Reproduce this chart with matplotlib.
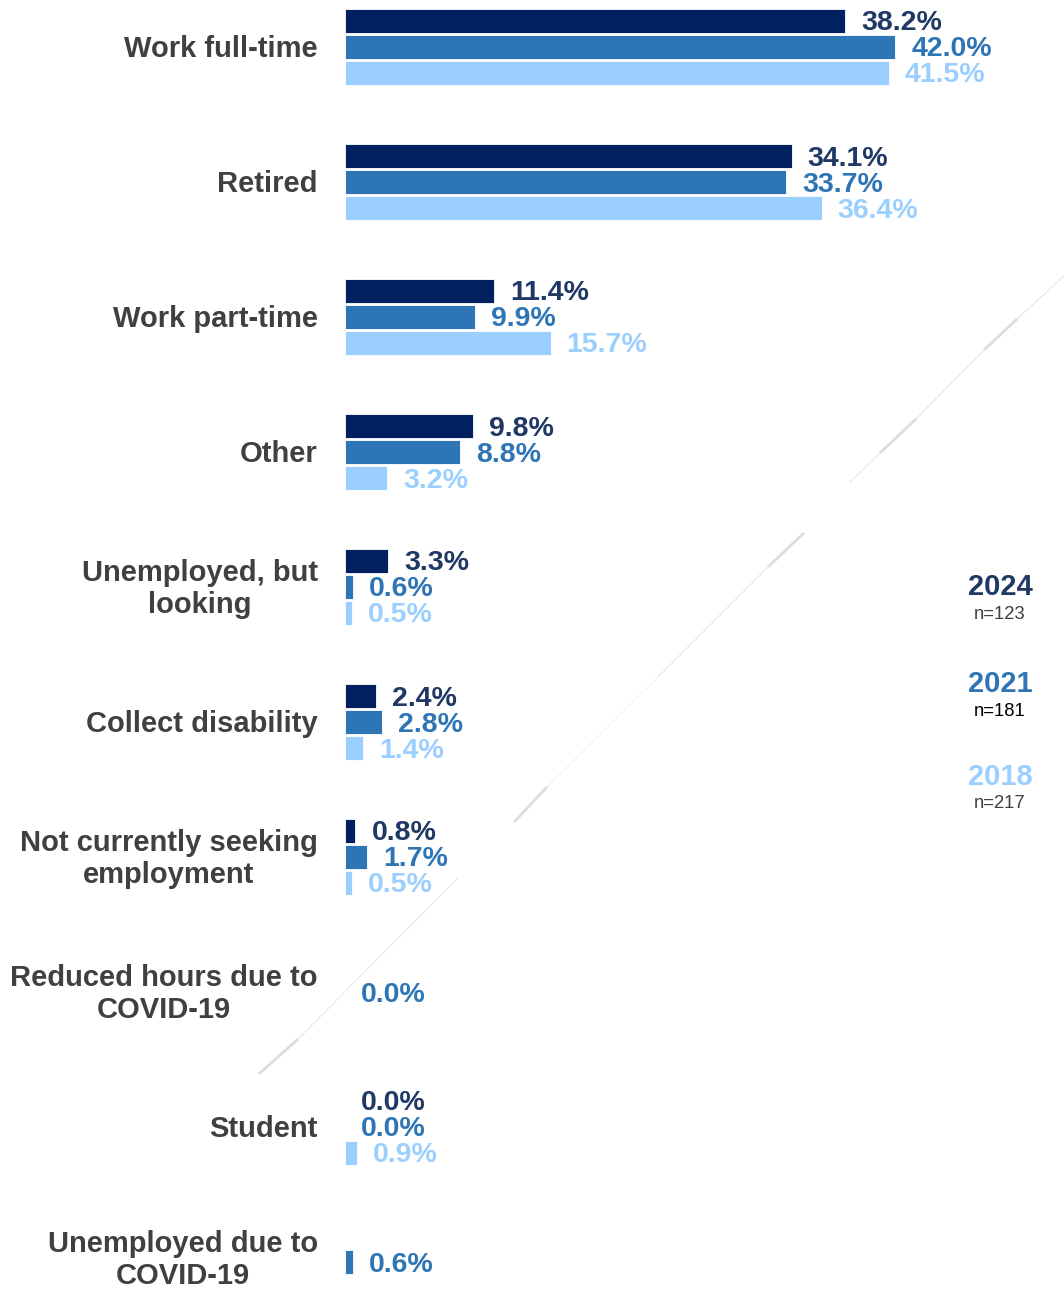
import numpy as np
import matplotlib
matplotlib.use("Agg")
import matplotlib.pyplot as plt
from matplotlib.lines import Line2D

plt.rcParams['font.family'] = ['Liberation Sans', 'DejaVu Sans']

categories = [
    "Work full-time",
    "Retired",
    "Work part-time",
    "Other",
    "Unemployed, but\nlooking",
    "Collect disability",
    "Not currently seeking\nemployment",
    "Reduced hours due to\nCOVID-19",
    "Student",
    "Unemployed due to\nCOVID-19",
]
years = ["2024", "2021", "2018"]
sample_sizes = ["n=123", "n=181", "n=217"]
v2024 = [38.2, 34.1, 11.4, 9.8, 3.3, 2.4, 0.8, None, 0.0, None]
v2021 = [42.0, 33.7, 9.9, 8.8, 0.6, 2.8, 1.7, 0.0, 0.0, 0.6]
v2018 = [41.5, 36.4, 15.7, 3.2, 0.5, 1.4, 0.5, None, 0.9, None]

bar_colors = ["#002060", "#2E75B6", "#9BCFFF"]
text_colors = ["#1F3864", "#2E75B6", "#9BCFFF"]
n_colors = ["#404040", "#000000", "#404040"]

W, H = 1064, 1289
fig = plt.figure(figsize=(W / 100, H / 100), dpi=100)

# Faint diagonal stroke running behind the chart
stroke = [
    [(1064, 276), (1016, 320), 0.8, "#E6E6E6"],
    [(1016, 320), (985, 349), 2.0, "#DDDDDD"],
    [(985, 349), (915, 420), 0.8, "#E6E6E6"],
    [(915, 420), (881, 452), 2.0, "#DDDDDD"],
    [(881, 452), (850, 482), 0.8, "#E6E6E6"],
    [(803, 534), (769, 566), 2.0, "#DDDDDD"],
    [(769, 566), (658, 677), 0.8, "#E6E6E6"],
    [(658, 677), (546, 788), 0.6, "#EEEEEE"],
    [(546, 788), (515, 821), 2.0, "#DDDDDD"],
    [(458, 878), (297, 1040), 0.8, "#E6E6E6"],
    [(297, 1040), (260, 1073), 2.0, "#DDDDDD"],
]
for (x0, y0), (x1, y1), lw, c in stroke:
    fig.add_artist(Line2D([x0 / W, x1 / W], [1 - y0 / H, 1 - y1 / H],
                          transform=fig.transFigure, lw=lw, color=c, zorder=0))

left_px = 345
px_per_pct = 13.1
ax = fig.add_axes([left_px / W, 0, (W - left_px) / W, 1])
ax.set_xlim(0, (W - left_px) / px_per_pct)
top_px, pitch = 47, 135
ax.set_ylim((H - top_px) / pitch, -top_px / pitch)
ax.axis("off")
ax.patch.set_alpha(0)

bar_h = 24 / pitch
offset = 26 / pitch
series = [v2024, v2021, v2018]
for s, vals in enumerate(series):
    for i, v in enumerate(vals):
        if v is None:
            continue
        y = i + (s - 1) * offset
        ax.barh(y, v, height=bar_h, color=bar_colors[s], edgecolor="white",
                linewidth=0.6, zorder=2)
        ax.annotate(f"{v:.1f}%", xy=(v, y), xytext=(11.5, -1.8),
                    textcoords="offset points", ha="left", va="center",
                    fontsize=20.5, fontweight="bold", color=text_colors[s],
                    zorder=3)

n_cat = len(categories)
for i, cat in enumerate(categories):
    dy = -1.5 if i < n_cat - 1 else 1.5  # keep the bottom label inside the canvas
    ax.annotate(cat, xy=(0, i), xytext=(-19.5, dy), textcoords="offset points",
                ha="right", va="center", multialignment="center",
                fontsize=21, fontweight="bold", color="#404040",
                linespacing=1.2, annotation_clip=False)

# Year / sample-size key on the right
key_y = [587, 684, 777]
for k in range(3):
    fig.text(1000 / W, 1 - key_y[k] / H, years[k], ha="center", va="center",
             fontsize=21, fontweight="bold", color=text_colors[k])
    fig.text(1000 / W, 1 - (key_y[k] + 27) / H, sample_sizes[k], ha="center",
             va="center", fontsize=13.3, color=n_colors[k])

fig.savefig("out.png", dpi=100)
